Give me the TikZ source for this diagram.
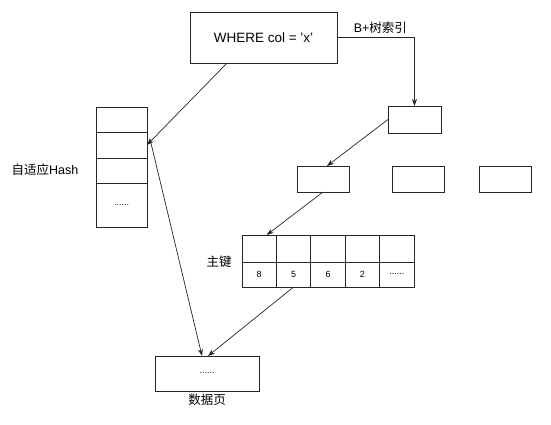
\documentclass[tikz,border=0pt]{standalone}
\usepackage{fontspec}
\setmainfont{Liberation Sans}
\newfontfamily\cjk{Noto Sans CJK SC}
\usetikzlibrary{positioning,arrows.meta}

\begin{document}
\begin{tikzpicture}[x=1pt,y=-1pt,node distance=0pt]
        \tikzstyle{arrow} = [draw=black!85, line width=0.7pt, -{Stealth[length=7pt,width=5pt]}]
        \tikzstyle{box} = [rectangle, draw=black!85, line width=0.8pt, text centered, inner sep=0pt, outer sep=0pt]
        \tikzstyle{cell} = [box, minimum width=51pt, font=\fontsize{9}{10}\selectfont]
        \tikzstyle{key} = [box, minimum width=34.4pt, font=\fontsize{9}{10}\selectfont]
        \tikzstyle{label} = [inner sep=1pt, font=\fontsize{12.5}{14}\selectfont]
        \useasboundingbox (0,0) rectangle (551,425);

        \node (where) [box, minimum width=147pt, minimum height=51pt, font=\fontsize{13.5}{15}\selectfont] at (263.5,37.5) {WHERE col = 'x'};
        \node (root) [box, minimum width=53pt, minimum height=27pt] at (414.5,119.5) {};
        \node (n1) [box, minimum width=52pt, minimum height=26pt] at (323,179) {};
        \node (n2) [box, minimum width=52pt, minimum height=26pt] at (418,179) {};
        \node (n3) [box, minimum width=52pt, minimum height=26pt] at (505,179) {};

        \node (h1) [cell, minimum height=25pt] at (121.5,119.5) {};
        \node (h2) [cell, minimum height=26pt, below=of h1] {};
        \node (h3) [cell, minimum height=25pt, below=of h2] {};
        \node (h4) [cell, minimum height=44pt, below=of h3] {......};
        \node (hashlabel) [label] at (45,170) {{\cjk 自适应}Hash};

        \node (k1) [key, minimum height=27pt] at (259.2,248.5) {};
        \node (k2) [key, minimum height=27pt, right=of k1] {};
        \node (k3) [key, minimum height=27pt, right=of k2] {};
        \node (k4) [key, minimum height=27pt, right=of k3] {};
        \node (k5) [key, minimum height=27pt, right=of k4] {};
        \node (v1) [key, minimum height=25pt, below=of k1] {8};
        \node (v2) [key, minimum height=25pt, below=of k2] {5};
        \node (v3) [key, minimum height=25pt, below=of k3] {6};
        \node (v4) [key, minimum height=25pt, below=of k4] {2};
        \node (v5) [key, minimum height=25pt, below=of k5] {......};
        \node (pklabel) [label] at (219,262) {\cjk 主键};

        \node (page) [box, minimum width=104pt, minimum height=35pt, font=\fontsize{9}{10}\selectfont] at (207,373.5) {......};
        \node (pagelabel) [label, below=2pt of page] {\cjk 数据页};

        \draw [arrow] (where.east) -| node [label, pos=0.28, above=3pt] {B+{\cjk 树索引}} (root.north);
        \draw [arrow] (root.west) -- (n1.73);
        \draw [arrow] (n1.south) -- (k1.61);
        \draw [arrow] (where.215) -- (h2.east);
        \draw [arrow] ([xshift=3pt,yshift=6pt]h2.east) -- ([xshift=-5pt]page.north);
        \draw [arrow] (v2.south) -- ([xshift=1pt]page.north);

    \end{tikzpicture}
\end{document}
